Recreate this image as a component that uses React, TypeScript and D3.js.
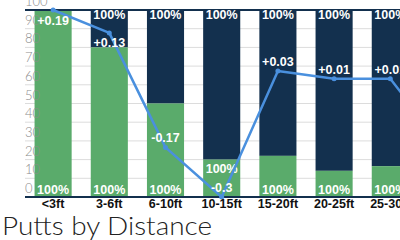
import React from "react";
import * as d3 from "d3";

const categories = ["<3ft", "3-6ft", "6-10ft", "10-15ft", "15-20ft", "20-25ft", "25-30ft", "30+ft"];
const madePct = [100, 80, 50, 20, 22, 14, 16.5, 12];
const totalPct = [100, 100, 100, 100, 100, 100, 100, 100];
const strokesGained = [0.19, 0.13, -0.17, -0.3, 0.03, 0.01, 0.01, -0.18];
const sgLabels = ["+0.19", "+0.13", "-0.17", "-0.3", "+0.03", "+0.01", "+0.01", "-0.18"];
const yTicks = [0, 10, 20, 30, 40, 50, 60, 70, 80, 90, 100];

const W = 400;
const H = 240;
const left = 25;
const top = 10;
const bottom = 197;
const step = 56.2;

const GREEN = "#5aab6b";
const NAVY = "#13304e";
const BLUE = "#4a90de";

export default function App() {
  const x = d3
    .scaleBand<string>()
    .domain(categories)
    .range([left, left + step * categories.length])
    .paddingInner(0.34)
    .paddingOuter(0.17);
  const y = d3.scaleLinear().domain([0, 100]).range([bottom, top]);
  const y2 = d3.scaleLinear().domain([-0.3, 0.19]).range([bottom, top]);
  const bw = x.bandwidth();
  const cx = (c: string) => (x(c) as number) + bw / 2;

  const line = d3
    .line<number>()
    .x((_, i) => cx(categories[i]))
    .y((d) => y2(d));

  return (
    <svg
      width={W}
      height={H}
      style={{ position: "absolute", left: 0, top: 0, display: "block" }}
    >
      {/* gridlines */}
      {yTicks
        .filter((t) => t > 0 && t < 100)
        .map((t) => (
          <line key={t} x1={left} x2={W} y1={y(t)} y2={y(t)} stroke="#dcdcdc" strokeWidth={1} />
        ))}
      {/* bars */}
      {categories.map((c, i) => (
        <g key={c}>
          <rect x={x(c)} y={y(totalPct[i])} width={bw} height={y(madePct[i]) - y(totalPct[i])} fill={NAVY} />
          <rect x={x(c)} y={y(madePct[i])} width={bw} height={bottom - y(madePct[i])} fill={GREEN} />
        </g>
      ))}
      {/* top and bottom rules */}
      <line x1={left} x2={W} y1={y(100)} y2={y(100)} stroke={NAVY} strokeWidth={2} />
      <line x1={left} x2={W} y1={bottom} y2={bottom} stroke={NAVY} strokeWidth={2} />
      {/* y tick labels */}
      {yTicks.map((t) => (
        <text
          key={t}
          x={left}
          y={y(t) - 4}
          fill="#8c8c8c"
          fontFamily="Lato, 'DejaVu Sans', sans-serif"
          fontWeight={300}
          fontSize={13}
        >
          {t}
        </text>
      ))}
      {/* bar labels */}
      {categories.map((c, i) => {
        const lineNearBottom = y2(strokesGained[i]) > bottom - 20;
        const gy = lineNearBottom ? y(madePct[i]) + 9 : bottom - 7;
        return (
          <g
            key={c}
            fill="#ffffff"
            fontFamily="'Liberation Sans', Arial, sans-serif"
            fontWeight="bold"
            fontSize={12.5}
            textAnchor="middle"
            dominantBaseline="central"
          >
            {totalPct[i] - madePct[i] > 0 && (
              <text x={cx(c)} y={top + 5}>
                {totalPct[i]}%
              </text>
            )}
            <text x={cx(c)} y={gy}>
              {madePct[i] > 0 ? "100%" : ""}
            </text>
          </g>
        );
      })}
      {/* line */}
      <path d={line(strokesGained) || ""} fill="none" stroke={BLUE} strokeWidth={2.5} strokeLinejoin="round" />
      {strokesGained.map((v, i) => (
        <circle key={i} cx={cx(categories[i])} cy={y2(v)} r={2.5} fill={BLUE} />
      ))}
      {strokesGained.map((v, i) => {
        const py = y2(v);
        const ly = py < 40 ? py + 10.5 : py - 9;
        return (
          <text
            key={i}
            x={cx(categories[i])}
            y={ly}
            fill="#ffffff"
            fontFamily="'Liberation Sans', Arial, sans-serif"
            fontWeight="bold"
            fontSize={12.5}
            textAnchor="middle"
            dominantBaseline="central"
          >
            {sgLabels[i]}
          </text>
        );
      })}
      {/* x labels */}
      {categories.map((c) => (
        <text
          key={c}
          x={cx(c)}
          y={204}
          fill="#111"
          fontFamily="'Liberation Sans', Arial, sans-serif"
          fontWeight="bold"
          fontSize={12.5}
          textAnchor="middle"
          dominantBaseline="central"
        >
          {c}
        </text>
      ))}
      {/* title */}
      <text
        x={2}
        y={235}
        fill="#222"
        fontFamily="Lato, 'DejaVu Sans', sans-serif"
        fontWeight={300}
        fontSize={25}
        textLength={210}
        lengthAdjust="spacingAndGlyphs"
      >
        Putts by Distance
      </text>
    </svg>
  );
}
